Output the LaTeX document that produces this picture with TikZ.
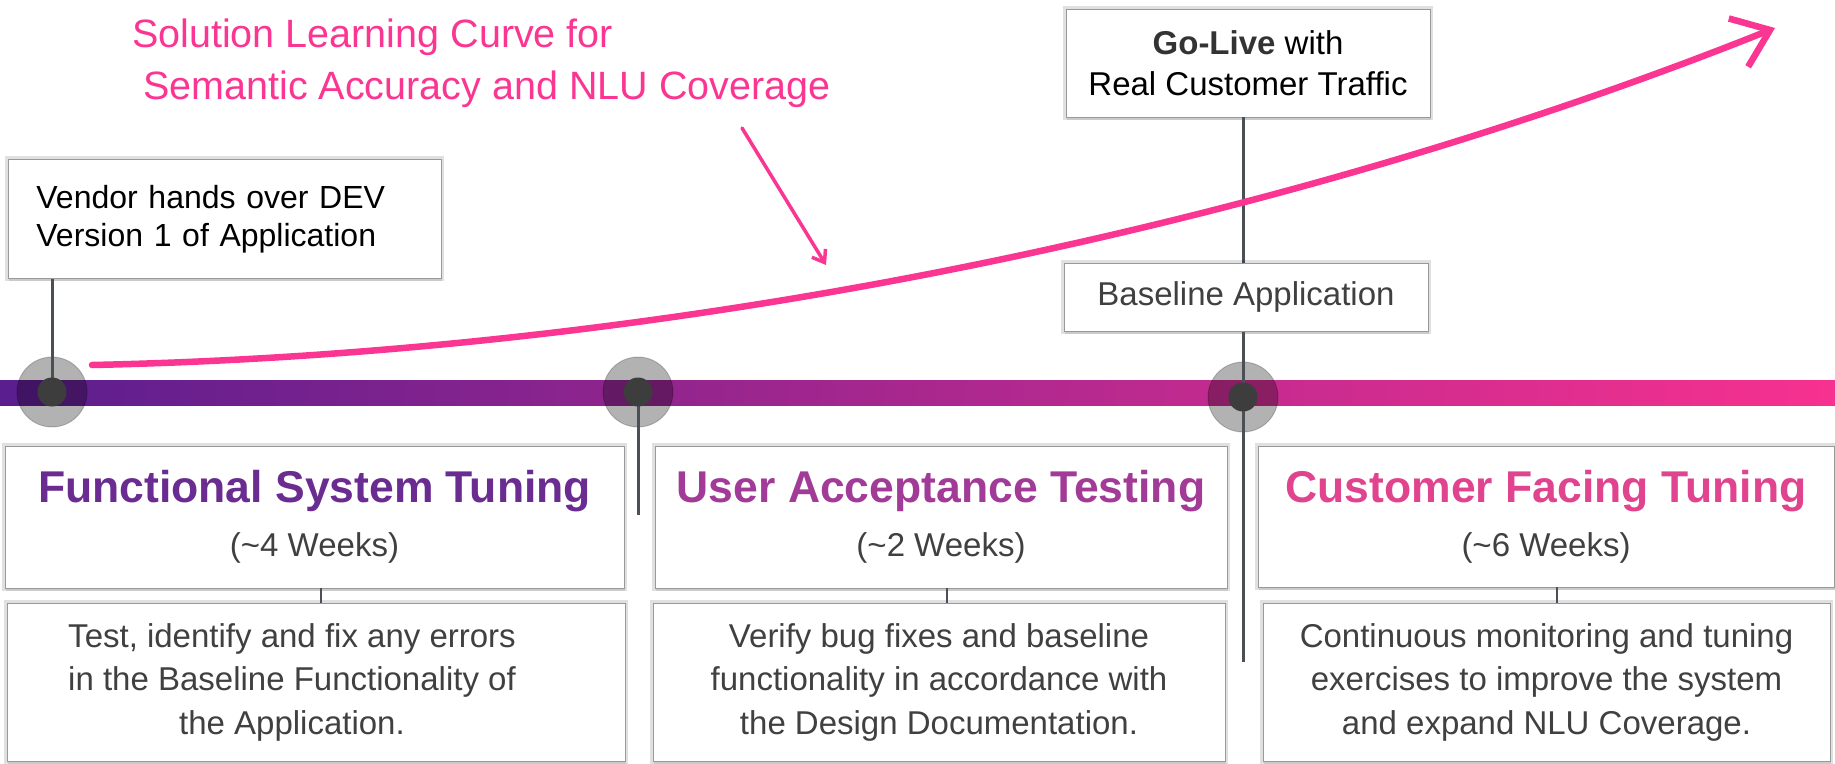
\documentclass[tikz,border=0pt]{standalone}
\usepackage{fontspec}
\setmainfont{Liberation Sans}
\usetikzlibrary{arrows.meta,shadows}
\definecolor{pinkc}{HTML}{FA3592}
\definecolor{barL}{HTML}{5A1E8E}
\definecolor{barM}{HTML}{B4268F}
\definecolor{barR}{HTML}{F7318F}
\definecolor{fstc}{HTML}{6B2C91}
\definecolor{uatc}{HTML}{A23B97}
\definecolor{cftc}{HTML}{E0448F}
\definecolor{txtg}{HTML}{404040}
\definecolor{stemc}{HTML}{4B5057}
\definecolor{dotc}{HTML}{3D3D3D}
\newcommand\phasettl[2]{{\fontsize{44.5}{54}\selectfont\bfseries\color{#1}#2}}
\begin{document}
\begin{tikzpicture}[x=1pt,y=-1pt,
  card/.style={draw=black!40, line width=0.8pt, fill=white, inner sep=0pt,
     preaction={draw=black, draw opacity=0.12, line width=6pt},
     drop shadow={shadow xshift=1pt, shadow yshift=-3pt, opacity=0.22}},
  halo/.style={circle, minimum size=70pt, inner sep=0pt, fill=black, fill opacity=0.3, draw=black, draw opacity=0.2, line width=1pt},
  dot/.style={circle, minimum size=29pt, inner sep=0pt, fill=dotc},
  stemline/.style={draw=stemc, line width=3pt},
  head/.style={card, align=center, font=\fontsize{33}{54}\selectfont, text=txtg},
  desc/.style={card, align=center, font=\fontsize{33}{43.5}\selectfont, text=txtg},
  crayon/.style={draw=pinkc, line cap=round, line join=round}
]
\useasboundingbox (0,0) rectangle (1835,763);
\fill[white] (0,0) rectangle (1835,763);

% timeline bar
\shade[left color=barL, middle color=barM, right color=barR] (0,380) rectangle (1835,405);

% milestone markers
\node[halo] (h1) at (52,392) {};
\node[halo] (h2) at (638,392) {};
\node[halo] (h3) at (1243,397) {};

% cards (upper)
\node[card, anchor=north west, minimum height=119pt, text width=377pt, inner xsep=28pt,
      align=left, font=\fontsize{32}{38}\selectfont, text=black] (vendor) at (8,159)
      {Vendor hands over DEV\\Version 1 of Application};
\node[card, minimum width=364pt, minimum height=108pt, align=center,
      font=\fontsize{33}{41}\selectfont, text=black] (golive) at (1248,63)
      {{\bfseries\color{black!80}Go-Live} with\\Real Customer Traffic};

% stems
\coordinate (e2) at (638,515);
\coordinate (e3) at (1243,662);
\draw[stemline] (h1.center) -- (h1.center |- vendor.south);
\draw[stemline] (h2.center) -- (e2);
\draw[stemline] (golive.south -| h3.center) -- (e3);

\node[card, minimum width=364pt, minimum height=68pt, font=\fontsize{33}{40}\selectfont,
      text=txtg] (base) at (1246,297) {Baseline Application};

\node[dot] (c1) at (h1.center) {};
\node[dot] (c2) at (h2.center) {};
\node[dot] (c3) at (h3.center) {};

% phase cards
\node[head, minimum width=619pt, minimum height=142pt] (fst) at (314.5,517)
  {\phasettl{fstc}{Functional System Tuning}\\(\textasciitilde4 Weeks)};
\node[head, minimum width=572pt, minimum height=142pt] (uat) at (941,517)
  {\phasettl{uatc}{User Acceptance Testing}\\(\textasciitilde2 Weeks)};
\node[head, minimum width=576pt, minimum height=141pt] (cft) at (1546,516.5)
  {\phasettl{cftc}{Customer Facing Tuning}\\(\textasciitilde6 Weeks)};

\node[desc, minimum width=618pt, minimum height=158pt] (fstd) at (316,682)
  {\parbox{470pt}{\centering Test, identify and fix any errors\\in the Baseline Functionality of\\the Application.}\hspace{48pt}};
\node[desc, minimum width=572pt, minimum height=158pt] (uatd) at (939,682)
  {Verify bug fixes and baseline\\functionality in accordance with\\the Design Documentation.};
\node[desc, minimum width=567pt, minimum height=158pt] (cftd) at (1546.5,682)
  {Continuous monitoring and tuning\\exercises to improve the system\\and expand NLU Coverage.};

\draw[stemline, line width=2.5pt] ([xshift=6.5pt]fst.south) -- ([xshift=6.5pt]fst.south |- fstd.north);
\draw[stemline, line width=2.5pt] ([xshift=6pt]uat.south) -- ([xshift=6pt]uat.south |- uatd.north);
\draw[stemline, line width=2.5pt] ([xshift=11pt]cft.south) -- ([xshift=11pt]cft.south |- cftd.north);

% learning curve
\coordinate (cs) at (92,365);
\coordinate (ce) at (1775,28);
\draw[crayon, line width=6.5pt, -{Straight Barb[length=34pt,width=52pt]}]
  (cs) .. controls (700,352) and (1300,218) .. (ce);

% title and pointer
\node[anchor=base west, align=left, text=pinkc, font=\fontsize{39.5}{52}\selectfont, inner sep=0pt] (ttl) at (132,99)
  {Solution Learning Curve for\\\hspace*{11pt}Semantic Accuracy and NLU Coverage};
\coordinate (ps) at (742,128);
\coordinate (pe) at (826,265);
\draw[crayon, line width=3.5pt, -{Straight Barb[length=11pt,width=16pt]}] (ps) -- (pe);
\end{tikzpicture}
\end{document}
